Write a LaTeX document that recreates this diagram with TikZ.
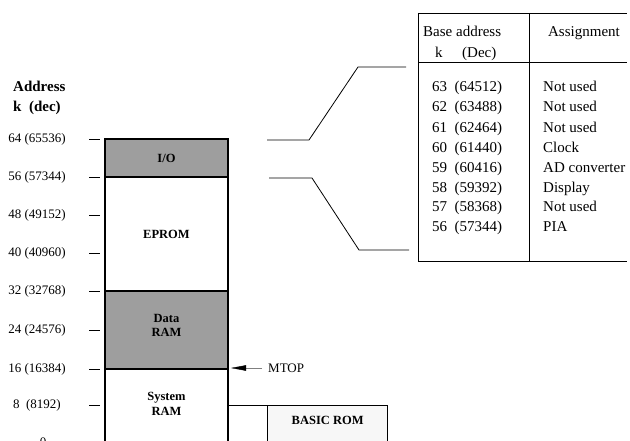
\documentclass[tikz,border=0pt]{standalone}
\usepackage{fontspec}
\setmainfont{Liberation Serif}
\usetikzlibrary{arrows.meta}
\definecolor{shade}{gray}{0.62}
\tikzset{
  region/.style={draw=black, line width=1.3pt, minimum width=123pt, inner sep=0pt, align=center,
    font=\fontsize{12.5}{14}\selectfont\bfseries},
  shaded/.style={fill=shade},
  addr/.style={font=\fontsize{13}{15}\selectfont, inner sep=0pt},
  tick/.style={line width=0.8pt},
  conn/.style={line width=0.8pt},
  tbl/.style={line width=0.8pt},
  cell/.style={font=\fontsize{15}{18}\selectfont, inner sep=0pt, anchor=base west},
  hdr/.style={font=\fontsize{15}{18}\selectfont\bfseries, inner sep=0pt, anchor=base west, align=left}
}
\begin{document}
\begin{tikzpicture}[x=1pt,y=-1pt]
\useasboundingbox (0,0) rectangle (630,441);
\clip (0,0) rectangle (630,441);
% heading
\node[hdr] (h1) at (13,92) {Address};
\node[hdr] (h2) at (13,112) {k\ \ (dec)};
% memory regions
\node[region, shaded, minimum height=38pt] (io) at (166.5,158) {I/O};
\node[region, minimum height=114pt] (eprom) at (166.5,234) {EPROM};
\node[region, shaded, minimum height=78pt, text depth=10pt] (dram) at (166.5,330) {Data\\RAM};
\draw[line width=1.3pt] (105,369) rectangle (228,480);
\node[font=\fontsize{12.5}{15}\selectfont\bfseries, align=center, inner sep=0pt] (sram) at (166.5,404) {System\\RAM};
% redraw shaded borders on top
\draw[line width=1.3pt] (io.north west) rectangle (io.south east);
\draw[line width=1.3pt] (dram.north west) rectangle (dram.south east);
% address labels and ticks
\foreach \y/\t in {139/64 (65536), 177/56 (57344), 215/48 (49152), 253/40 (40960), 291/32 (32768), 330/24 (24576), 369/16 (16384), 405/8\ \ (8192)} {
  \node[addr] at (37,\y) {\t};
  \draw[tick] (89,\y) -- (100,\y);
}
\node[addr] (zero) at (43,442) {0};
% MTOP arrow
\node[font=\fontsize{13}{15}\selectfont, inner sep=0pt, anchor=west] (mtop) at (268,368) {MTOP};
\coordinate (mtip) at (231,368);
\draw[line width=0.4pt, gray, -{Triangle[length=15pt,width=5.5pt,black]}] ([xshift=-6pt]mtop.west) -- (mtip);
% BASIC ROM
\node[draw=black, line width=1.3pt, minimum width=120pt, minimum height=70pt, anchor=north west,
  inner sep=0pt, fill=gray!6, text depth=40pt, font=\fontsize{12.5}{15}\selectfont\bfseries] (brom) at (267,405) {BASIC ROM};
\coordinate (c8) at (228,405);
\draw[conn] (c8) -- (brom.north west);
% connectors to the table
\coordinate (u0) at (267,140);
\coordinate (u1) at (309,140);
\coordinate (u2) at (358,67);
\coordinate (u3) at (406,67);
\draw[conn] (u0) -- (u1) -- (u2) -- (u3);
\coordinate (l0) at (269,178);
\coordinate (l1) at (312,178);
\coordinate (l2) at (359,250);
\coordinate (l3) at (409,250);
\draw[conn] (l0) -- (l1) -- (l2) -- (l3);
% table
\coordinate (tnw) at (418,13);
\coordinate (tne) at (627,13);
\coordinate (tsw) at (418,261);
\coordinate (tse) at (627,261);
\draw[tbl] (tnw) -- (tne);
\draw[tbl] (tnw) -- (tsw) -- (tse);
\draw[tbl] (418,62) -- (627,62);
\draw[tbl] (529,13) -- (529,261);
\node[cell] (bh1) at (423,37) {Base address};
\node[cell] (bh2) at (435,58) {k};
\node[cell] (bh3) at (462,58) {(Dec)};
\node[cell, anchor=base] (ah) at (584,37) {Assignment};
\foreach \y/\a/\b in {87/63\ \ (64512)/Not used, 107/62\ \ (63488)/Not used, 128/61\ \ (62464)/Not used, 148/60\ \ (61440)/Clock, 168/59\ \ (60416)/AD converter, 188/58\ \ (59392)/Display, 207/57\ \ (58368)/Not used, 227/56\ \ (57344)/PIA} {
  \node[cell] at (432,\y+5) {\a};
  \node[cell] at (543,\y+5) {\b};
}
\end{tikzpicture}
\end{document}
